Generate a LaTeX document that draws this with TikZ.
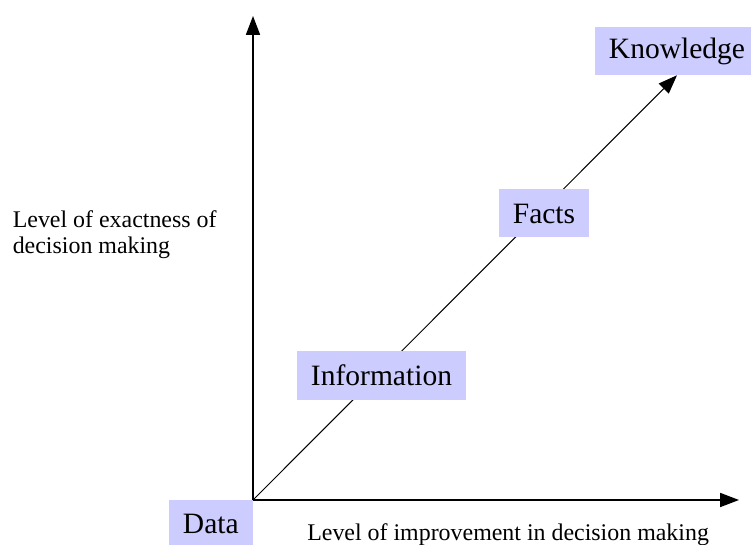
\documentclass[tikz,border=0pt]{standalone}
\usepackage{fontspec}
\setmainfont{Liberation Serif}
\usetikzlibrary{arrows.meta}
\definecolor{boxblue}{RGB}{204,204,255}
\begin{document}
\begin{tikzpicture}[x=0.025cm, y=0.025cm, >={Triangle[length=0.47cm,width=0.35cm]},
		level/.style={fill=boxblue, inner xsep=0.35cm, inner ysep=0pt, minimum height=1.2cm, font=\fontsize{21}{25}\selectfont},
		axislabel/.style={inner sep=0pt, font=\fontsize{17}{18.5}\selectfont}]
		\useasboundingbox (0,0) rectangle (751,545);
		\coordinate (o) at (253,45); \coordinate (ytop) at (253,529); \coordinate (xend) at (739,45);
		\node[level, anchor=north east] (data) at (o) {Data};
		\node[level] (know) at (677,494) {Knowledge};
		\draw[->, line width=0.7pt] (o) -- (know.south);
		\node[level] (facts) at (544,331.5) {Facts};
		\node[level] (info) at (381.5,169.5) {Information};
		\draw[->, line width=1pt] (o) -- (ytop);
		\draw[->, line width=1pt] (o) -- (xend);
		\node[axislabel, align=left, anchor=north west] (ylabel) at (12.5,335) {Level of exactness of\\decision making};
		\node[axislabel, anchor=base west] (xlabel) at (307,4) {Level of improvement in decision making};
	\end{tikzpicture}
\end{document}
